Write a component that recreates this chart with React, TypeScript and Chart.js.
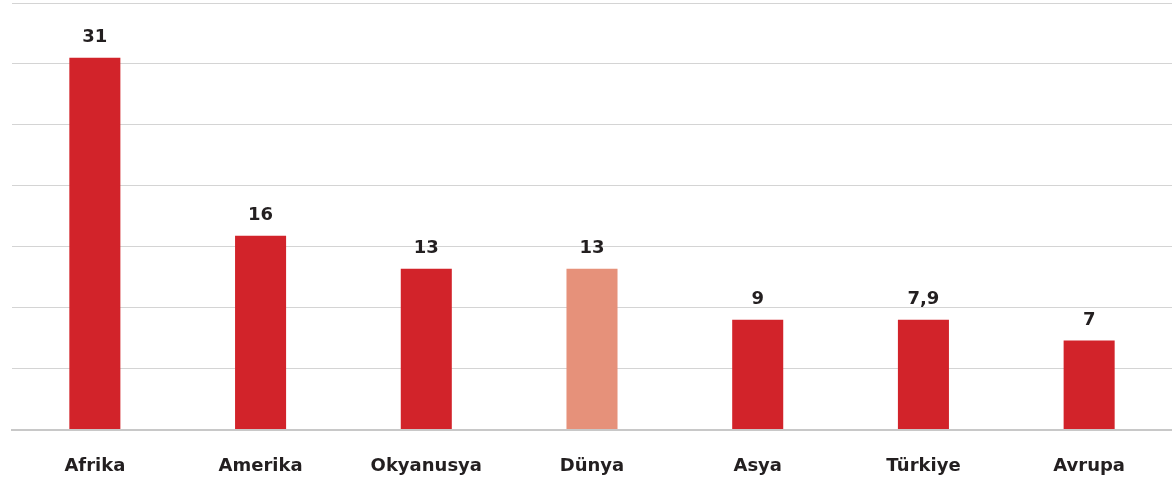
import React, { useEffect, useRef } from "react";
import { Chart, registerables } from "chart.js";

Chart.register(...registerables);

const categories = ["Afrika", "Amerika", "Okyanusya", "Dünya", "Asya", "Türkiye", "Avrupa"];
const barValues = [30.5, 15.9, 13.2, 13.2, 9.0, 9.0, 7.3];
const valueLabels = ["31", "16", "13", "13", "9", "7,9", "7"];
const barColors = ["#d2232a", "#d2232a", "#d2232a", "#e6917a", "#d2232a", "#d2232a", "#d2232a"];

const FONT = "'DejaVu Sans', sans-serif";

const valueLabelPlugin = {
  id: "valueLabels",
  afterDatasetsDraw(chart: any) {
    const ctx = chart.ctx;
    const meta = chart.getDatasetMeta(0);
    ctx.save();
    ctx.font = `bold 18px ${FONT}`;
    ctx.fillStyle = "#231f20";
    ctx.textAlign = "center";
    ctx.textBaseline = "alphabetic";
    meta.data.forEach((bar: any, i: number) => {
      ctx.fillText(valueLabels[i], bar.x, bar.y - 16);
    });
    ctx.restore();
  },
};

export default function App() {
  const canvasRef = useRef<HTMLCanvasElement | null>(null);

  useEffect(() => {
    document.body.style.margin = "0";
    const canvas = canvasRef.current;
    if (!canvas) return;
    const chart = new Chart(canvas, {
      type: "bar",
      data: {
        labels: categories,
        datasets: [
          {
            data: barValues,
            backgroundColor: barColors,
            borderWidth: 0,
            barPercentage: 0.308,
            categoryPercentage: 1,
          },
        ],
      },
      options: {
        animation: false,
        responsive: false,
        maintainAspectRatio: false,
        layout: { padding: { left: 12, right: 0, top: 3, bottom: 0 } },
        plugins: {
          legend: { display: false },
          tooltip: { enabled: false },
        },
        scales: {
          x: {
            grid: { display: false, drawTicks: false },
            border: { display: true, color: "#c8c8c8", width: 2 },
            ticks: {
              padding: 26,
              color: "#231f20",
              font: { family: FONT, size: 18, weight: "bold" },
            },
            afterFit(scale: any) {
              scale.height = 55.5;
            },
          },
          y: {
            min: 0,
            max: 35,
            ticks: { stepSize: 5, display: false },
            grid: { color: "#d4d4d4", lineWidth: 1, drawTicks: false },
            border: { display: false },
          },
        },
      },
      plugins: [valueLabelPlugin],
    });
    return () => chart.destroy();
  }, []);

  return (
    <div style={{ width: 1172, height: 485 }}>
      <canvas ref={canvasRef} width={1172} height={485} style={{ display: "block" }} />
    </div>
  );
}
